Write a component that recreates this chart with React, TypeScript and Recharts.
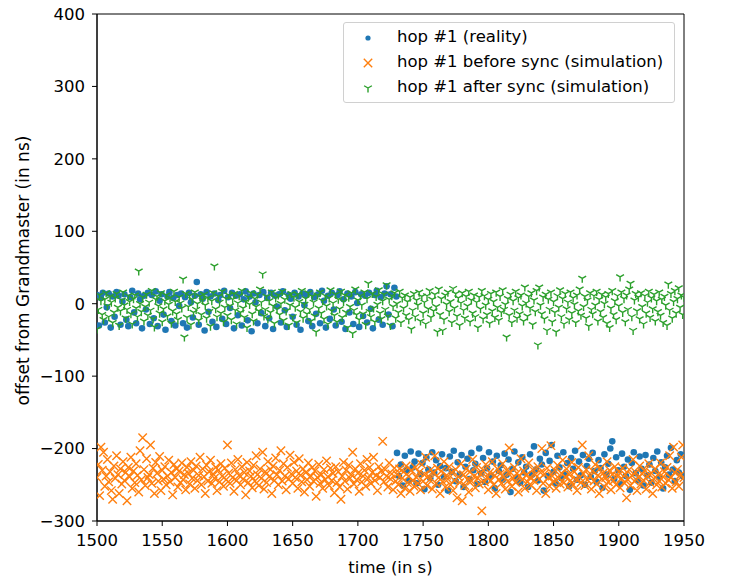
import React from 'react';
import { ScatterChart, Scatter, XAxis, YAxis, ReferenceArea, Legend } from 'recharts';

// sample grid of each trace (seconds)
const realityStartA = 1500;
const realityStartB = 1730;
const realityStep = 1.5;
const beforeStart = 1500;
const beforeStep = 1;
const afterStart = 1500;
const afterStep = 1;

// hop #1 reality, before the step (ns)
const realityA = [
  12, -30, 8, 15, -26, -5, 14, -33, 10, -18,
  16, 11, -29, 3, 13, -22, -31, 9, 18, -12,
  -27, 14, 6, -34, 11, -8, 15, -28, 12, -20,
  17, -31, 4, 13, -15, -36, 10, 16, -24, 8,
  -30, 12, -3, 14, -27, 9, -33, 15, 2, -19,
  11, 30, -29, 13, 7, -37, 16, -11, 10, -25,
  14, -32, 5, 12, -21, 18, -28, 9, -6, 15,
  -34, 11, -16, 13, -30, 6, 17, -23, 10, -38,
  14, 2, -27, 12, -13, 16, -31, 8, -20, 15,
  -35, 11, -4, 13, -26, 17, -9, -32, 12, 7,
  -18, 15, -29, 10, -36, 14, -2, 12, -24, 16,
  -31, 9, -14, 13, -27, 18, 4, -33, 11, -21,
  15, -8, -30, 12, 17, -25, 6, -35, 14, -12,
  10, -28, 16, 1, -32, 13, -17, 11, -26, 15,
  -7, -34, 12, 18, -22, 9, -29, 14, 24, -15,
  13, -31, 22, 10,
];

// hop #1 reality, after the step (ns)
const realityB = [
  -206, -238, -222, -251, -210, -230, -244, -204, -226, -218,
  -248, -207, -235, -220, -256, -212, -229, -241, -205, -233,
  -216, -250, -224, -208, -239, -227, -258, -211, -232, -203,
  -245, -219, -236, -209, -253, -225, -214, -242, -206, -230,
  -221, -249, -200, -234, -213, -246, -227, -205, -238, -218,
  -255, -210, -231, -223, -243, -207, -236, -215, -260, -228,
  -204, -240, -219, -247, -212, -233, -225, -253, -208, -236,
  -197, -229, -244, -214, -222, -258, -206, -238, -217, -195,
  -232, -248, -210, -226, -241, -205, -235, -220, -252, -213,
  -228, -203, -243, -218, -237, -209, -250, -224, -214, -239,
  -206, -231, -246, -216, -227, -254, -208, -236, -221, -200,
  -190, -242, -212, -230, -249, -207, -225, -238, -215, -257,
  -220, -205, -234, -244, -211, -228, -251, -209, -237, -222,
  -247, -213, -231, -204, -240, -219, -255, -226, -210, -236,
  -199, -229, -245, -216, -233, -208, -238,
];

// hop #1 before sync, simulation (ns)
const beforeSync = [
  -240, -222, -265, -198, -230, -205, -252, -238, -215, -246,
  -232, -258, -270, -224, -241, -210, -236, -262, -228, -249,
  -218, -244, -233, -272, -226, -239, -212, -255, -231, -247,
  -221, -237, -260, -203, -243, -185, -229, -251, -214, -240,
  -236, -195, -248, -227, -262, -219, -234, -245, -211, -258,
  -230, -242, -225, -250, -238, -216, -246, -233, -264, -222,
  -240, -228, -253, -231, -247, -220, -243, -236, -257, -226,
  -234, -249, -218, -241, -230, -255, -224, -244, -237, -212,
  -250, -228, -239, -262, -223, -245, -232, -216, -248, -235,
  -241, -226, -258, -230, -246, -221, -238, -252, -227, -243,
  -195, -234, -248, -220, -240, -259, -229, -244, -215, -237,
  -250, -225, -242, -233, -264, -219, -247, -231, -238, -254,
  -223, -245, -210, -236, -251, -228, -241, -205, -256, -232,
  -247, -218, -239, -229, -262, -224, -244, -213, -236, -250,
  -230, -203, -245, -221, -238, -257, -226, -242, -209, -235,
  -248, -219, -240, -231, -255, -214, -237, -246, -228, -260,
  -233, -243, -220, -252, -238, -226, -245, -231, -266, -240,
  -222, -248, -236, -255, -229, -243, -217, -239, -251, -227,
  -244, -234, -261, -225, -247, -232, -253, -270, -238, -219,
  -245, -230, -256, -223, -241, -236, -205, -249, -228, -243,
  -234, -259, -221, -246, -238, -230, -252, -215, -241, -226,
  -248, -233, -212, -244, -237, -258, -225, -240, -231, -190,
  -246, -229, -238, -253, -220, -242, -235, -257, -227, -245,
  -236, -250, -228, -262, -241, -232, -255, -224, -247, -238,
  -259, -230, -244, -252, -226, -240, -248, -233, -257, -222,
  -245, -236, -212, -251, -238, -243, -229, -256, -234, -210,
  -248, -227, -240, -262, -231, -246, -218, -253, -237, -242,
  -225, -250, -233, -258, -244, -229, -268, -239, -247, -221,
  -272, -236, -251, -228, -243, -260, -232, -245, -215, -238,
  -254, -226, -241, -249, -235, -286, -230, -246, -222, -240,
  -257, -233, -244, -218, -250, -237, -262, -228, -243, -235,
  -248, -221, -239, -256, -230, -245, -199, -233, -252, -241,
  -226, -247, -234, -260, -238, -214, -243, -231, -255, -237,
  -246, -220, -240, -251, -229, -244, -236, -258, -225, -242,
  -233, -200, -248, -235, -262, -227, -240, -252, -196, -238,
  -245, -230, -255, -223, -241, -249, -234, -216, -247, -239,
  -228, -253, -236, -244, -219, -250, -232, -242, -258, -226,
  -240, -247, -195, -235, -251, -229, -243, -210, -238, -256,
  -231, -245, -222, -249, -237, -262, -227, -242, -234, -253,
  -240, -218, -246, -230, -257, -236, -244, -225, -250, -238,
  -232, -254, -241, -227, -247, -236, -268, -243, -229, -251,
  -237, -215, -245, -233, -258, -240, -224, -249, -235, -244,
  -230, -256, -238, -221, -247, -234, -262, -242, -228, -250,
  -236, -245, -220, -253, -239, -232, -248, -226, -243, -210,
  -240, -255, -198, -233, -246, -229, -252, -237, -212, -195,
  -240,
];

// hop #1 after sync, simulation (ns)
const afterSync = [
  -35, -8, 12, 4, -15, -22, 6, 15, -3, -18,
  10, 2, -26, -12, 8, 14, -5, -30, -10, 5,
  16, -2, -20, -8, 11, 3, -14, -28, 7, 12,
  -6, -18, 45, 0, -11, 9, -24, -4, 13, -16,
  2, -9, 18, -21, -32, 6, 10, -3, -13, 15,
  -25, -7, 4, 12, -17, -1, 8, -27, -10, 17,
  3, -14, -22, 9, 1, -6, 34, -46, 14, -19,
  -4, 11, -29, 6, -12, 16, -8, 0, -23, 10,
  -15, 5, 13, -2, -20, 8, -11, -31, 4, 15,
  52, -7, -18, 10, 2, -13, 17, -25, -5, 7,
  -16, 12, -3, -22, 6, 14, -9, -28, 1, 11,
  -12, 18, -6, -19, 3, -33, 9, -1, 15, -14,
  -24, 7, -4, 13, -10, 20, 2, 41, -17, -8,
  10, -21, 4, -12, 16, -3, -27, 8, -7, 12,
  -15, 0, 17, -23, 6, -10, 11, -30, -2, 14,
  -18, 9, -5, -26, 13, 3, -11, 18, -20, -1,
  7, -14, 15, -8, -24, 10, 2, -17, -39, 12,
  -6, 16, -13, 4, -21, 11, -3, -28, 8, 19,
  -10, 1, -16, 13, -25, 6, -7, 17, -19, 3,
  12, -12, -33, 9, -4, 15, -41, -9, 20, -15,
  5, -22, 11, -2, -14, 16, -29, 7, 28, -11,
  -18, 14, -6, -25, 10, -1, 19, -13, -21, 4,
  13, -8, 26, -17, 6, -30, 11, -4, 15, -20,
  0, -12, 17, -26, 8, -6, 12, -16, 3, -22,
  9, -35, -9, 14, -18, 5, -2, 16, -24, 10,
  -13, 2, -28, 11, -7, 18, -19, 6, -10, 13,
  -4, -39, 20, -15, 7, -37, -22, 12, -1, 16,
  -11, 3, -26, 21, -6, 14, -17, 8, -30, 1,
  15, -9, -20, 10, -3, 17, -25, 5, -13, 12,
  -18, 2, -33, 9, -7, 18, -21, 11, -2, -15,
  6, -27, 14, -10, 3, -19, 16, -5, -23, 10,
  -12, 19, -8, -1, -46, 7, -16, 13, -26, 4,
  -9, 17, -20, 8, -14, 12, -3, -24, 23, 1,
  -17, 10, -6, 15, -29, 5, -11, 18, -57, 23,
  -2, -14, 9, -21, 13, -37, 6, -8, 16, -25,
  3, -12, -39, 11, -5, 19, -18, 7, -28, 14,
  -7, 2, -22, 16, -13, 8, -1, -26, 12, -10,
  20, -16, 35, -4, 10, -20, 5, -31, 15, -8,
  -14, 11, -2, 17, -24, 6, -11, 13, -19, 0,
  9, -27, 14, -33, -6, 18, -15, 4, -22, 11,
  -3, 37, 16, -12, 7, -25, 12, -8, 20, 28,
  -18, -37, 5, 14, -10, 9, -21, 15, -4, -28,
  11, -13, 2, 17, -19, 8, -7, 13, -24, 4,
  -11, 16, -16, 6, -26, 10, -2, -30, 27, -9,
  14, -20, 3, 18, -13, 7, 22, -5, 12, -15,
  9,
];

const xTicks = [1500, 1550, 1600, 1650, 1700, 1750, 1800, 1850, 1900, 1950];
const yTicks = [-300, -200, -100, 0, 100, 200, 300, 400];

const BLUE = '#1f77b4';
const ORANGE = '#ff7f0e';
const GREEN = '#2ca02c';
const FONT = '"DejaVu Sans", sans-serif';
const FS = 16.5;

const toPoints = (start: number, step: number, vals: number[]) =>
  vals.map((v, i) => ({ t: start + i * step, v }));

const realityData = [
  ...toPoints(realityStartA, realityStep, realityA),
  ...toPoints(realityStartB, realityStep, realityB),
];
const beforeData = toPoints(beforeStart, beforeStep, beforeSync);
const afterData = toPoints(afterStart, afterStep, afterSync);

const DotShape = ({ cx, cy }: any) => <circle cx={cx} cy={cy} r={3.3} fill={BLUE} />;

const CrossShape = ({ cx, cy }: any) => (
  <path
    d={`M${cx - 4.2},${cy - 4.2}L${cx + 4.2},${cy + 4.2}M${cx - 4.2},${cy + 4.2}L${cx + 4.2},${cy - 4.2}`}
    stroke={ORANGE}
    strokeWidth={1.4}
    fill="none"
  />
);

const TriShape = ({ cx, cy }: any) => (
  <path
    d={`M${cx},${cy}L${cx},${cy + 4.5}M${cx},${cy}L${cx - 3.9},${cy - 2.25}M${cx},${cy}L${cx + 3.9},${cy - 2.25}`}
    stroke={GREEN}
    strokeWidth={1.4}
    fill="none"
  />
);

const fmtY = (v: number) => (v < 0 ? `\u2212${Math.abs(v)}` : `${v}`);

const XLabel = ({ viewBox }: any) => (
  <text
    x={viewBox.x + viewBox.width / 2}
    y={567}
    textAnchor="middle"
    dominantBaseline="central"
    fontFamily={FONT}
    fontSize={FS}
    fill="#000"
  >
    time (in s)
  </text>
);

const YLabel = ({ viewBox }: any) => {
  const x = 23;
  const y = viewBox.y + viewBox.height / 2 + 3;
  return (
    <text
      x={x}
      y={y}
      transform={`rotate(-90, ${x}, ${y})`}
      textAnchor="middle"
      dominantBaseline="central"
      fontFamily={FONT}
      fontSize={17}
      fill="#000"
    >
      offset from Grandmaster (in ns)
    </text>
  );
};

const legendRows = [
  { label: 'hop #1 (reality)', kind: 'dot' },
  { label: 'hop #1 before sync (simulation)', kind: 'x' },
  { label: 'hop #1 after sync (simulation)', kind: 'tri' },
];

const LegendMarker = ({ kind }: { kind: string }) => (
  <svg width={20} height={20} style={{ position: 'absolute', left: 14, top: -10 }}>
    {kind === 'dot' && <circle cx={10} cy={10} r={2.6} fill={BLUE} />}
    {kind === 'x' && <CrossShape cx={10} cy={10} />}
    {kind === 'tri' && <TriShape cx={10} cy={10} />}
  </svg>
);

const LegendBox = () => (
  <div
    style={{
      position: 'relative',
      width: 330,
      height: 79,
      border: '1px solid #d0d0d0',
      borderRadius: 3,
      background: 'rgba(255,255,255,0.8)',
      fontFamily: FONT,
      fontSize: FS,
      color: '#000',
    }}
  >
    {legendRows.map((r, i) => (
      <div key={r.label} style={{ position: 'absolute', left: 0, top: 15 + i * 25, height: 0 }}>
        <LegendMarker kind={r.kind} />
        <span style={{ position: 'absolute', left: 53, top: -11, whiteSpace: 'nowrap', lineHeight: '20px' }}>
          {r.label}
        </span>
      </div>
    ))}
  </div>
);

export default function App() {
  return (
    <div style={{ position: 'absolute', left: 0, top: 0, width: 729, height: 578, background: '#fff' }}>
      <ScatterChart width={729} height={578} margin={{ top: 14, right: 45, bottom: 12, left: 5 }}>
        <XAxis
          type="number"
          dataKey="t"
          domain={[1500, 1950]}
          ticks={xTicks}
          allowDataOverflow
          height={45}
          tickSize={5}
          tickMargin={8}
          tick={{ fill: '#000', fontSize: FS, fontFamily: FONT }}
          tickLine={{ stroke: '#000' }}
          axisLine={{ stroke: '#000' }}
          label={<XLabel />}
        />
        <YAxis
          type="number"
          dataKey="v"
          domain={[-300, 400]}
          ticks={yTicks}
          allowDataOverflow
          width={92}
          tickSize={5}
          tickMargin={7}
          tickFormatter={fmtY}
          tick={{ fill: '#000', fontSize: FS, fontFamily: FONT }}
          tickLine={{ stroke: '#000' }}
          axisLine={{ stroke: '#000' }}
          label={<YLabel />}
        />
        <Scatter name="hop #1 (reality)" data={realityData} shape={<DotShape />} isAnimationActive={false} />
        <Scatter name="hop #1 before sync (simulation)" data={beforeData} shape={<CrossShape />} isAnimationActive={false} />
        <Scatter name="hop #1 after sync (simulation)" data={afterData} shape={<TriShape />} isAnimationActive={false} />
        <ReferenceArea x1={1500} x2={1950} y1={-300} y2={400} fill="none" stroke="#000" strokeWidth={1} />
        <Legend
          layout="vertical"
          align="center"
          verticalAlign="middle"
          content={<LegendBox />}
          wrapperStyle={{ position: 'absolute', left: 343, top: 22, width: 332, height: 81 }}
        />
      </ScatterChart>
    </div>
  );
}
